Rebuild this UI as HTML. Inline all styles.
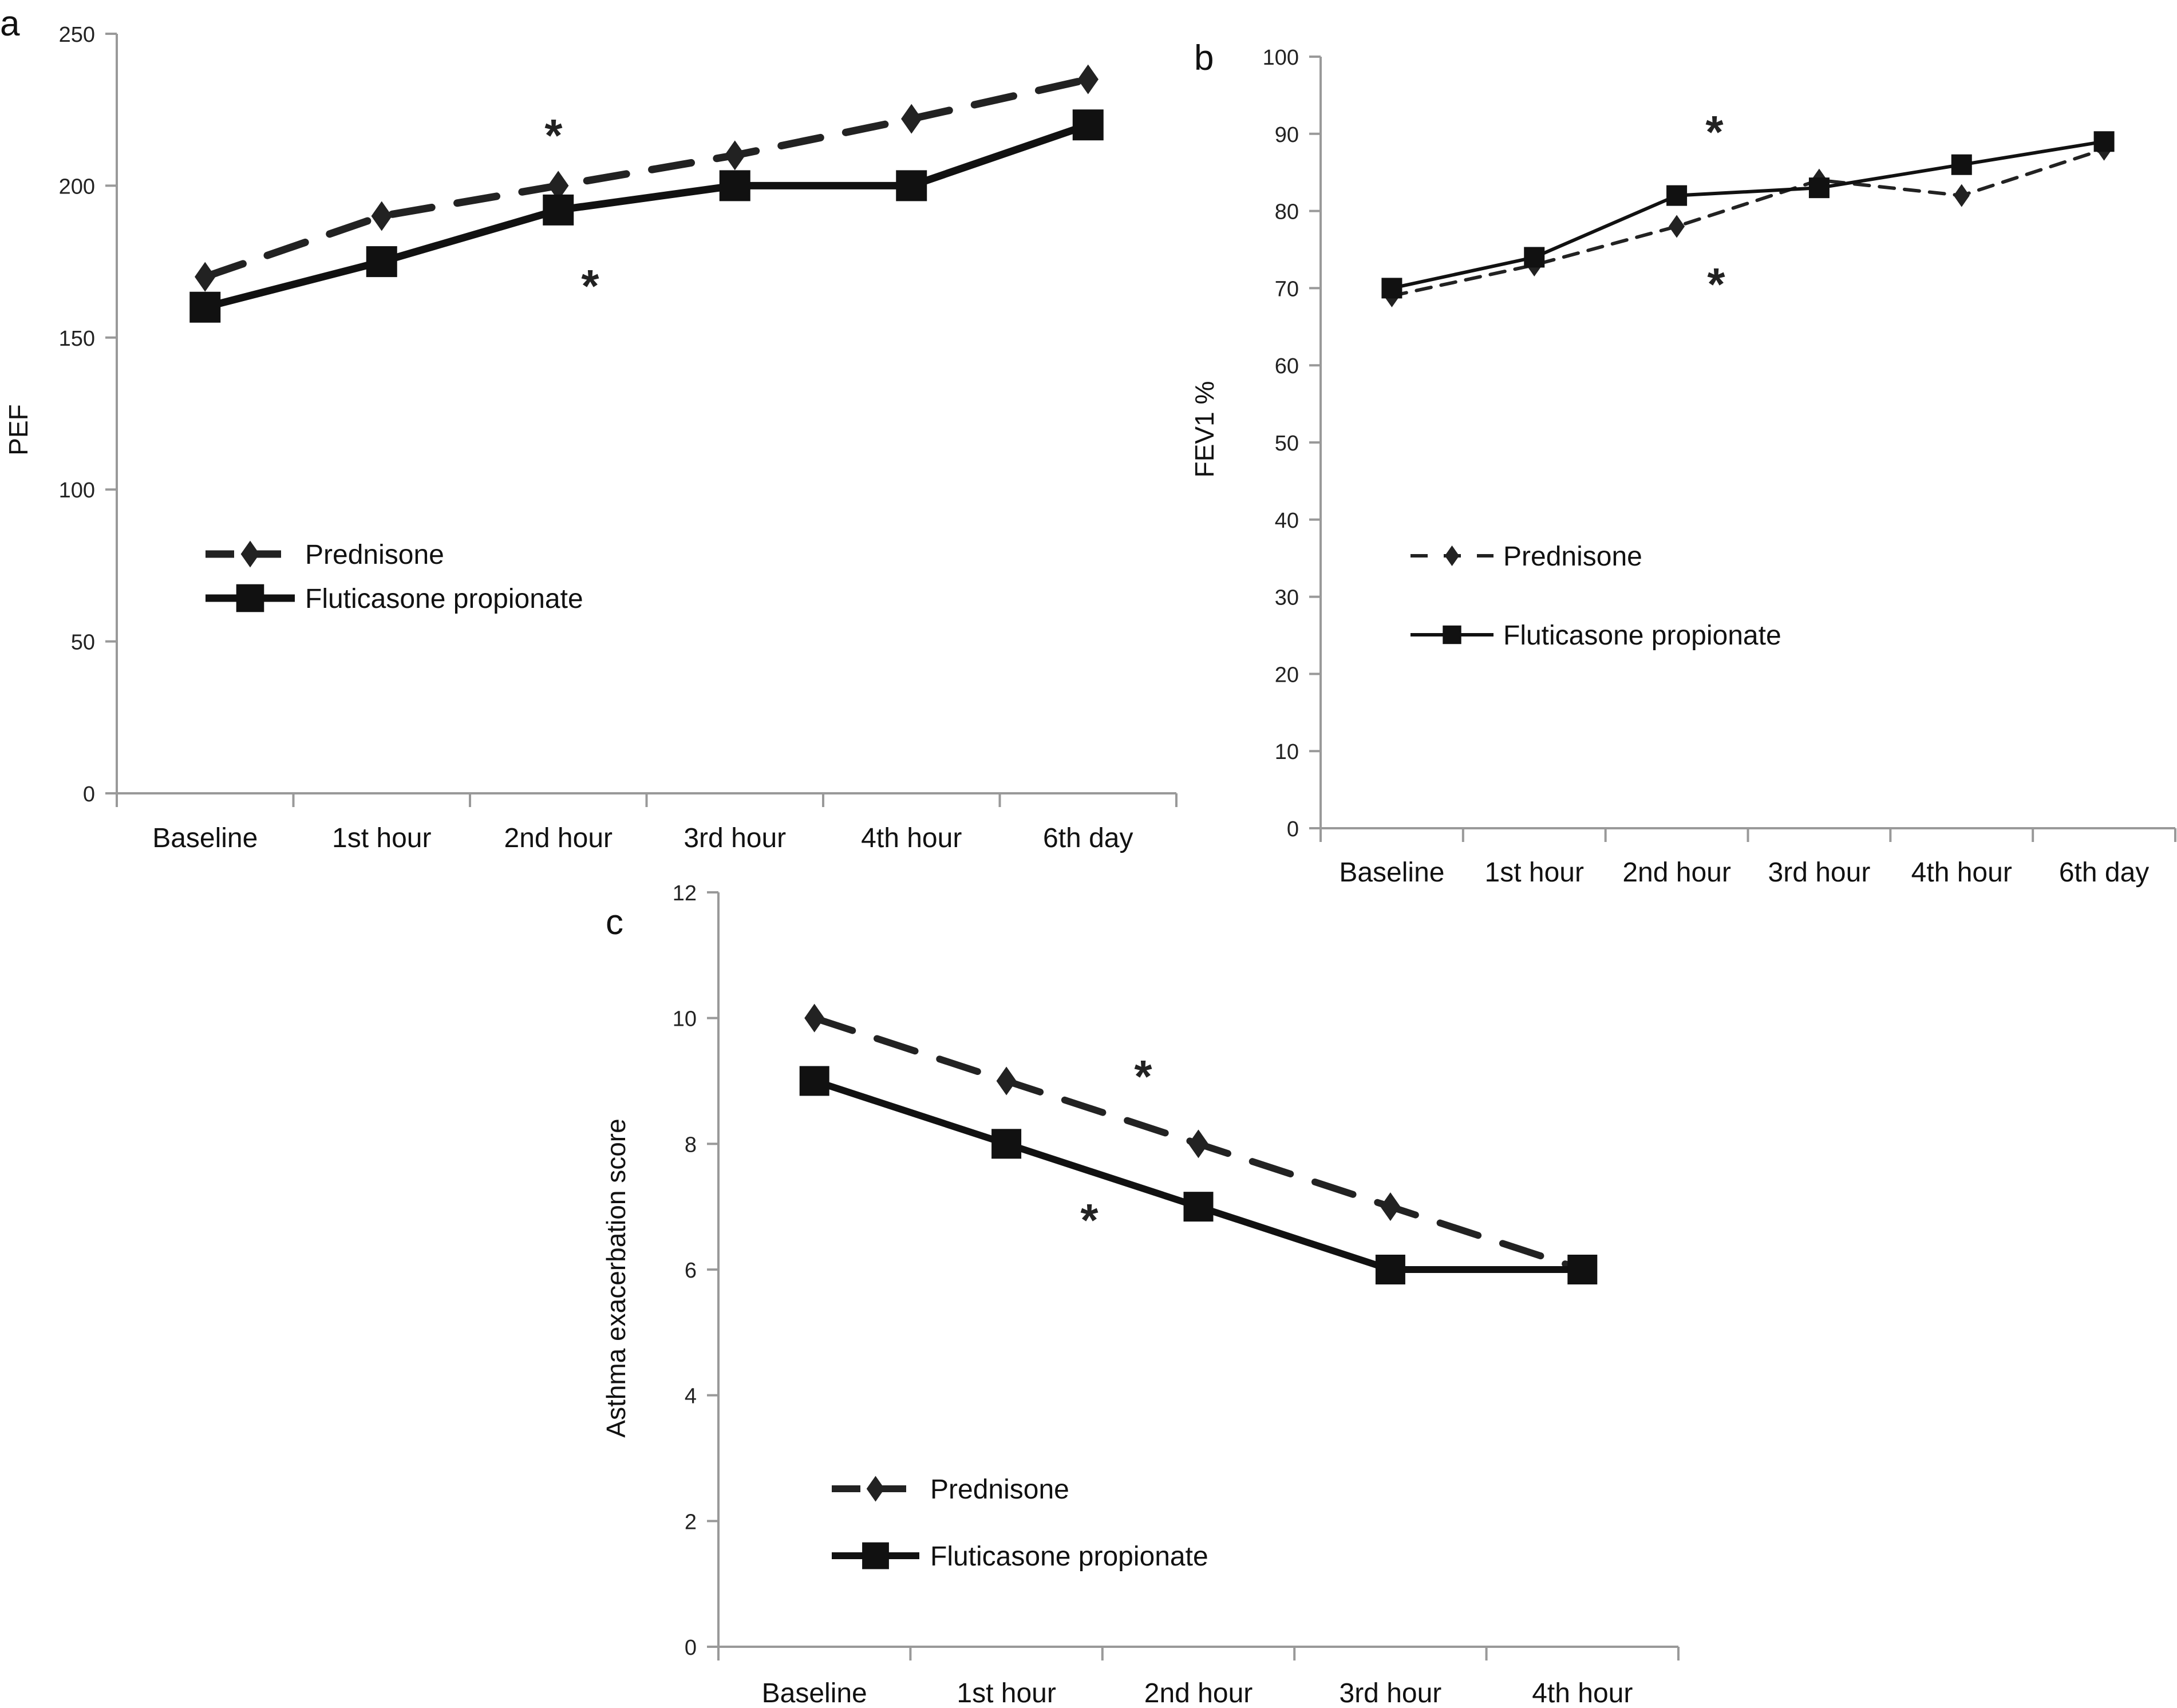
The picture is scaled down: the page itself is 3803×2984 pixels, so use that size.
<!DOCTYPE html>
<html><head><meta charset="utf-8"><style>
html,body{margin:0;padding:0;background:#fff}
svg{display:block;font-family:"Liberation Sans",Arial,sans-serif}
</style></head><body>
<svg id="fig" width="3803" height="2984" viewBox="0 0 3803 2984" xmlns="http://www.w3.org/2000/svg"></svg>
<script>
const catsA = ["Baseline","1st hour","2nd hour","3rd hour","4th hour","6th day"];
const predA = [170,190,200,210,222,235];
const flutA = [160,175,192,200,200,220];
const ticksA = [0,50,100,150,200,250];

const catsB = ["Baseline","1st hour","2nd hour","3rd hour","4th hour","6th day"];
const predB = [69,73,78,84,82,88];
const flutB = [70,74,82,83,86,89];
const ticksB = [0,10,20,30,40,50,60,70,80,90,100];

const catsC = ["Baseline","1st hour","2nd hour","3rd hour","4th hour"];
const predC = [10,9,8,7,6];
const flutC = [9,8,7,6,6];
const ticksC = [0,2,4,6,8,10,12];

const NS="http://www.w3.org/2000/svg";
const svg=document.getElementById('fig');
function mk(tag,attrs,parent){const e=document.createElementNS(NS,tag);for(const k in attrs)e.setAttribute(k,attrs[k]);(parent||svg).appendChild(e);return e;}

function panel(o){
  const g=mk('g',{});
  
  
  const n=o.cats.length;
  const step=(o.x1-o.x0)/n;
  const xs=i=>o.x0+step*(i+0.5);
  const ys=v=>o.y0-(v-o.vmin)/(o.vmax-o.vmin)*(o.y0-o.y1);
  const ya=mk('line',{x1:o.x0,y1:o.y1,x2:o.x0,y2:o.y0,stroke:'#999','stroke-width':4},g);
  
  const xa=mk('line',{x1:o.x0-20,y1:o.y0,x2:o.x1,y2:o.y0,stroke:'#999','stroke-width':4},g);
  
  for(let i=0;i<=n;i++){const xt=o.x0+step*i;mk('line',{x1:xt,y1:o.y0,x2:xt,y2:o.y0+24,stroke:'#999','stroke-width':4},g);}
  o.ticks.forEach(t=>{
    const y=ys(t);
    mk('line',{x1:o.x0-20,y1:y,x2:o.x0,y2:y,stroke:'#999','stroke-width':4},g);
    const tx=mk('text',{x:o.x0-38,y:y+14,'font-size':o.tfs,'text-anchor':'end',fill:'#222'},g);
    tx.textContent=t;
    
  });
  o.cats.forEach((c,i)=>{
    const tx=mk('text',{x:xs(i),y:o.xly,'font-size':48,'text-anchor':'middle',fill:'#111'},g);
    tx.textContent=c;
    
  });
  const yt=mk('text',{x:0,y:0,'font-size':46,'text-anchor':'middle',fill:'#111',transform:`translate(${o.ytx},${o.yty}) rotate(-90)`},g);
  yt.textContent=o.ytitle;
  const lt=mk('text',{x:o.lx,y:o.ly,'font-size':62,fill:'#111'},g);
  lt.textContent=o.id;
  const pp=o.pred.map((v,i)=>xs(i)+','+ys(v)).join(' ');
  const pl=mk('polyline',{points:pp,fill:'none',stroke:'#222','stroke-width':o.lw,'stroke-dasharray':o.dash,'stroke-linecap':'round'},g);
  
  const fp=o.flut.map((v,i)=>xs(i)+','+ys(v)).join(' ');
  const fl=mk('polyline',{points:fp,fill:'none',stroke:'#111','stroke-width':o.lw},g);
  
  const dw=o.dm*0.7,dh=o.dm;
  o.pred.forEach((v,i)=>{
    const x=xs(i),y=ys(v);
    const d=mk('polygon',{points:`${x},${y-dh/2} ${x+dw/2},${y} ${x},${y+dh/2} ${x-dw/2},${y}`,fill:'#222'},g);
    
  });
  o.flut.forEach((v,i)=>{
    const x=xs(i),y=ys(v);
    const s=mk('rect',{x:x-o.sq/2,y:y-o.sq/2,width:o.sq,height:o.sq,fill:'#111'},g);
    
  });
  o.stars.forEach(p=>{
    const s=mk('text',{x:p[0],y:p[1]+34,'font-size':80,'font-weight':'bold','text-anchor':'middle',fill:'#222'},g);
    s.textContent='*';
  });
  const L=o.leg;
  const lg=mk('g',{},g);
  const l1=mk('line',{x1:L.x0,y1:L.y1,x2:L.x1,y2:L.y1,stroke:'#222','stroke-width':o.lw,'stroke-dasharray':L.dash},lg);
  
  const mx=(L.x0+L.x1)/2;
  mk('polygon',{points:`${mx},${L.y1-dh/2*0.9} ${mx+dw/2*0.9},${L.y1} ${mx},${L.y1+dh/2*0.9} ${mx-dw/2*0.9},${L.y1}`,fill:'#222'},lg);
  const t1=mk('text',{x:L.tx,y:L.y1+17,'font-size':48,fill:'#111'},lg);t1.textContent='Prednisone';
  
  const l2=mk('line',{x1:L.x0,y1:L.y2,x2:L.x1,y2:L.y2,stroke:'#111','stroke-width':o.lw},lg);
  
  mk('rect',{x:mx-o.sq*0.45,y:L.y2-o.sq*0.45,width:o.sq*0.9,height:o.sq*0.9,fill:'#111'},lg);
  const t2=mk('text',{x:L.tx,y:L.y2+17,'font-size':48,fill:'#111'},lg);t2.textContent='Fluticasone propionate';
  
}

panel({id:'a',cats:catsA,pred:predA,flut:flutA,ticks:ticksA,vmin:0,vmax:250,
  x0:204,x1:2055,y0:1386,y1:59,tfs:38,xly:1480,ytitle:'PEF',ytx:48,yty:751,lx:0,ly:62,
  lw:13,dash:'70 45',dm:52,sq:54,stars:[[967,230],[1031,493]],
  leg:{x0:359,x1:515,y1:968,y2:1045,tx:533,dash:'50 32'}});
panel({id:'b',cats:catsB,pred:predB,flut:flutB,ticks:ticksB,vmin:0,vmax:100,
  x0:2307,x1:3800,y0:1447,y1:99,tfs:38,xly:1540,ytitle:'FEV1 %',ytx:2120,yty:750,lx:2086,ly:122,
  lw:6,dash:'26 18',dm:40,sq:36,stars:[[2995,224],[2998,490]],
  leg:{x0:2464,x1:2609,y1:971,y2:1109,tx:2626,dash:'30 28'}});
panel({id:'c',cats:catsC,pred:predC,flut:flutC,ticks:ticksC,vmin:0,vmax:12,
  x0:1255,x1:2932,y0:2877,y1:1559,tfs:38,xly:2974,ytitle:'Asthma exacerbation score',ytx:1092,yty:2233,lx:1058,ly:1632,
  lw:12,dash:'70 45',dm:50,sq:52,stars:[[1997,1874],[1903,2125]],
  leg:{x0:1453,x1:1606,y1:2601,y2:2718,tx:1625,dash:'50 30'}});
</script>
</body></html>
